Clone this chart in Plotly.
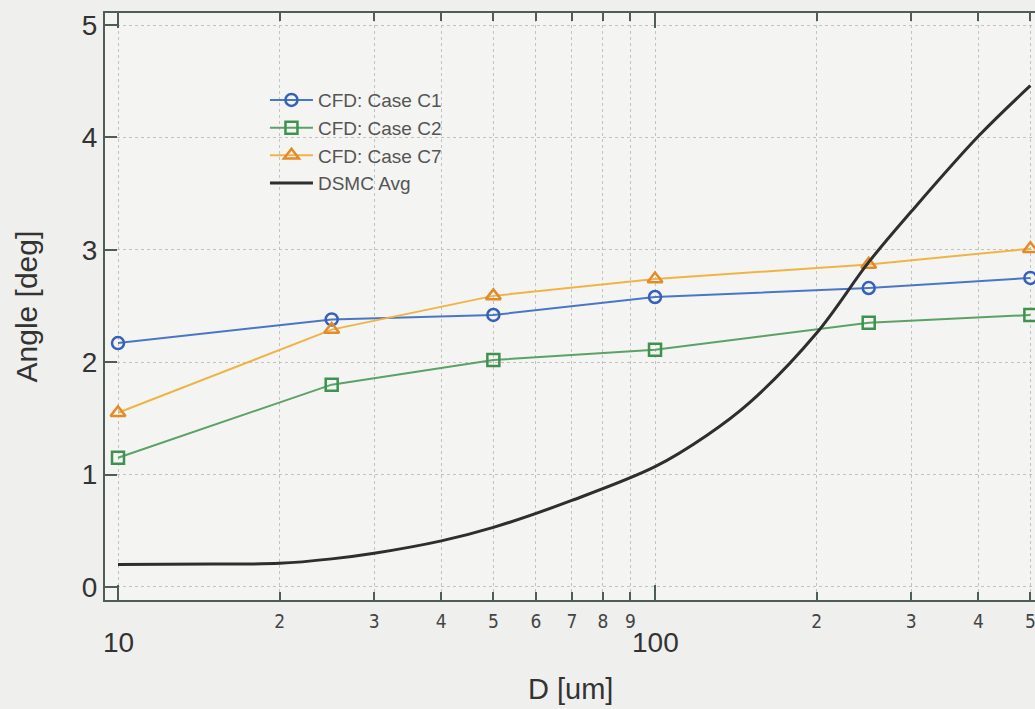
import numpy as np
import plotly.graph_objects as go

# Particle diameter [um] for the CFD cases
d_cfd = [10, 25, 50, 100, 250, 500]
angle_c1 = [2.17, 2.38, 2.42, 2.58, 2.66, 2.75]
angle_c2 = [1.15, 1.80, 2.02, 2.11, 2.35, 2.42]
angle_c7 = [1.55, 2.29, 2.59, 2.74, 2.87, 3.01]

# DSMC averaged curve
d_dsmc = [10, 15, 20, 25, 30, 40, 50, 70, 100, 125, 150, 200, 250, 300,
          400, 500]
angle_dsmc = [0.20, 0.205, 0.21, 0.25, 0.30, 0.41, 0.53, 0.77, 1.07, 1.35,
              1.64, 2.26, 2.89, 3.34, 4.01, 4.46]

# Axis tick labels
minor_vals = [20, 30, 40, 50, 60, 70, 80, 90, 200, 300, 400, 500]
minor_text = ["2", "3", "4", "5", "6", "7", "8", "9", "2", "3", "4", "5"]
major_vals = [10, 100]
major_text = ["10", "100"]
y_vals = [0, 1, 2, 3, 4, 5]

FONT = "Liberation Sans, Arial, sans-serif"
AXIS_COLOR = "#4e5d56"
TEXT_COLOR = "#333333"
GRID_COLOR = "#c2c2c2"

fig = go.Figure()

fig.add_trace(go.Scatter(
    x=d_cfd, y=angle_c1, name="CFD: Case C1", mode="lines+markers",
    line=dict(color="#4a76c6", width=2),
    marker=dict(symbol="circle-open", size=12, color="#3562b8",
                line=dict(width=2.5)),
))
fig.add_trace(go.Scatter(
    x=d_cfd, y=angle_c2, name="CFD: Case C2", mode="lines+markers",
    line=dict(color="#5aa266", width=2),
    marker=dict(symbol="square-open", size=12, color="#3f9150",
                line=dict(width=2.5)),
))
fig.add_trace(go.Scatter(
    x=d_cfd, y=angle_c7, name="CFD: Case C7", mode="lines+markers",
    line=dict(color="#f0b446", width=2),
    marker=dict(symbol="triangle-up-open", size=13, color="#e08c2c",
                line=dict(width=2.5)),
))
fig.add_trace(go.Scatter(
    x=d_dsmc, y=angle_dsmc, name="DSMC Avg", mode="lines",
    line=dict(color="#2e2e2e", width=3, shape="spline", smoothing=1.0),
))

annotations = []
for v, t in zip(major_vals, major_text):
    annotations.append(dict(
        x=np.log10(v), y=0, xref="x", yref="paper", text=t,
        showarrow=False, xanchor="center", yanchor="middle", yshift=-42,
        font=dict(family=FONT, size=28, color=TEXT_COLOR),
    ))
annotations.append(dict(
    x=0.5, y=0, xref="paper", yref="paper", text="D [um]",
    showarrow=False, xanchor="center", yanchor="middle", yshift=-89,
    font=dict(family=FONT, size=29, color=TEXT_COLOR),
))
annotations.append(dict(
    x=0, y=0.5, xref="paper", yref="paper", text="Angle [deg]",
    showarrow=False, xanchor="center", yanchor="middle", xshift=-79,
    textangle=-90, font=dict(family=FONT, size=30, color=TEXT_COLOR),
))

fig.update_layout(
    width=1035, height=709,
    margin=dict(l=105, r=0, t=13, b=109),
    paper_bgcolor="#efefed",
    plot_bgcolor="#f4f4f2",
    font=dict(family=FONT, color=TEXT_COLOR),
    showlegend=True,
    legend=dict(
        x=0.172, y=0.884, xanchor="left", yanchor="top",
        bgcolor="rgba(0,0,0,0)", borderwidth=0,
        font=dict(family=FONT, size=19, color="#555555"),
        itemwidth=43, tracegroupgap=0,
    ),
    annotations=annotations,
)

fig.update_xaxes(
    type="log",
    range=[0.9758, 2.7076],
    tickmode="array", tickvals=minor_vals, ticktext=minor_text,
    ticks="inside", ticklen=8, tickwidth=1.5, tickcolor=AXIS_COLOR,
    tickfont=dict(family="DejaVu Sans Condensed, DejaVu Sans, sans-serif",
                  size=19, color="#444444"),
    ticklabeloverflow="allow", ticklabelstandoff=3,
    showgrid=True, gridcolor=GRID_COLOR, griddash="dot", gridwidth=1,
    minor=dict(tickmode="array", tickvals=major_vals, ticks="inside",
               ticklen=15, tickwidth=1.5, tickcolor=AXIS_COLOR,
               showgrid=True, gridcolor=GRID_COLOR, griddash="dot",
               gridwidth=1),
    showline=True, linecolor=AXIS_COLOR, linewidth=2,
    mirror="allticks", zeroline=False,
)
fig.update_yaxes(
    range=[-0.116, 5.107],
    tickmode="array", tickvals=y_vals,
    ticks="inside", ticklen=12, tickwidth=1.5, tickcolor=AXIS_COLOR,
    tickfont=dict(family=FONT, size=28, color=TEXT_COLOR),
    showgrid=True, gridcolor=GRID_COLOR, griddash="dot", gridwidth=1,
    showline=True, linecolor=AXIS_COLOR, linewidth=2,
    mirror=False, zeroline=False,
)

fig.write_html("out.html")
